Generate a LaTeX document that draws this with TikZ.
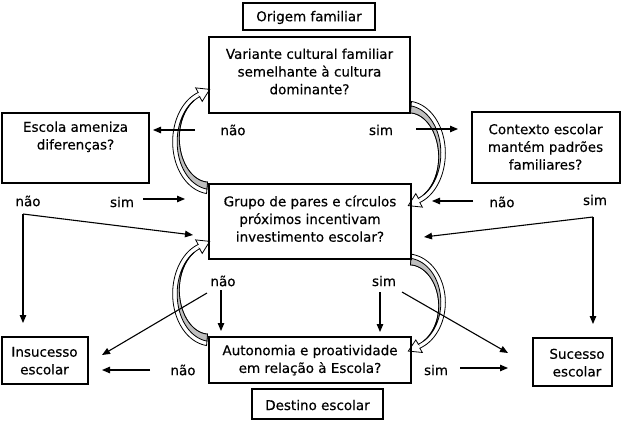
\documentclass[tikz,border=0pt]{standalone}
\usepackage{fontspec}
\setmainfont[FakeBold=0.4]{DejaVu Sans}
\usetikzlibrary{arrows.meta}
\begin{document}
\begin{tikzpicture}[x=1pt,y=-1pt,
  box/.style={draw, line width=1.2pt, inner sep=0pt},
  txt/.style={font=\fontsize{13.5}{17.7}\selectfont, align=center, inner sep=0pt},
  arr/.style={line width=1.1pt, -{Triangle[length=8pt,width=6.5pt]}},
  declare function={cwf(\t)=((251-\t)/156)*sqrt((251-\t)/156);},
  pics/curvarrow/.style={code={
    \filldraw[fill=white, line width=0.8pt]
      plot[domain=95:251, samples=50, variable=\t] ({(36.25+3.5*cwf(\t))*cos(\t)}, {(50.25+3.5*cwf(\t))*sin(\t)})
      -- (-14.35,-52.12) -- (-0.28,-50.62) -- (-7.79,-38.64) -- (-10.34,-43.26)
      -- plot[domain=251:95, samples=50, variable=\t] ({(31.75-3.5*cwf(\t))*cos(\t)}, {(45.75-3.5*cwf(\t))*sin(\t)})
      -- cycle;
    \filldraw[fill=gray!50, line width=0.8pt]
      plot[domain=95:240, samples=40, variable=\t] ({(31.75+3.5*cwf(\t))*cos(\t)}, {(45.75+3.5*cwf(\t))*sin(\t)})
      -- plot[domain=240:95, samples=40, variable=\t] ({(31.75-3.5*cwf(\t))*cos(\t)}, {(45.75-3.5*cwf(\t))*sin(\t)})
      -- cycle;
  }}]
\useasboundingbox (0,0) rectangle (626,426);

% curved block arrows
\pic (cLU) at (210,140) {curvarrow};
\pic (cLL) at (210,292) {curvarrow};
\pic[rotate=180] (cRU) at (408,155) {curvarrow};
\pic[rotate=180, yscale=0.93] (cRL) at (408,304) {curvarrow};

% boxes
\node[box, minimum width=132pt, minimum height=27pt] (origem) at (309,16.5) {};
\node[txt] (origem-t) at (309,17.5) {Origem familiar};
\node[box, minimum width=201pt, minimum height=76pt] (variante) at (309.5,75) {};
\node[txt] (variante-t) at (309.5,71.5) {Variante cultural familiar\\semelhante à cultura\\dominante?};
\node[box, minimum width=147pt, minimum height=70pt] (escola) at (75.5,148) {};
\node[txt] (escola-t) at (75.5,136.8) {Escola ameniza\\diferenças?};
\node[box, minimum width=148pt, minimum height=71pt] (contexto) at (546,147.5) {};
\node[txt] (contexto-t) at (545.5,146.8) {Contexto escolar\\mantém padrões\\familiares?};
\node[box, minimum width=202pt, minimum height=75pt] (grupo) at (310,221.5) {};
\node[txt] (grupo-t) at (310,218.7) {Grupo de pares e círculos\\próximos incentivam\\investimento escolar?};
\node[box, minimum width=86pt, minimum height=47pt] (insucesso) at (45,360.5) {};
\node[txt] (insucesso-t) at (44.5,360.7) {Insucesso\\escolar};
\node[box, minimum width=202pt, minimum height=46pt] (autonomia) at (310,360) {};
\node[txt] (autonomia-t) at (310,360.2) {Autonomia e proatividade\\em relação à Escola?};
\node[box, minimum width=131pt, minimum height=30pt] (destino) at (317.5,404) {};
\node[txt] (destino-t) at (317.5,405) {Destino escolar};
\node[box, minimum width=79pt, minimum height=48pt] (sucesso) at (572.5,362) {};
\node[txt] (sucesso-t) at (577,362.7) {Sucesso\\escolar};

% labels
\node[txt] (nao1) at (233,130) {não};
\node[txt] (sim1) at (381,130) {sim};
\node[txt] (nao2) at (28,201) {não};
\node[txt] (sim2) at (122,202) {sim};
\node[txt] (nao3) at (502,202) {não};
\node[txt] (sim3) at (595,200) {sim};
\node[txt] (nao4) at (223,281) {não};
\node[txt] (sim4) at (384,281) {sim};
\node[txt] (nao5) at (183,370) {não};
\node[txt] (sim5) at (436,370) {sim};

% arrow end points
\coordinate (a1s) at (195,130); \coordinate (a1e) at (153,130);
\coordinate (a2s) at (416,129); \coordinate (a2e) at (458,129);
\coordinate (a3s) at (143,199); \coordinate (a3e) at (185,199);
\coordinate (a4s) at (23,214);  \coordinate (a4e) at (193,235); \coordinate (a4d) at (23,323);
\coordinate (a5s) at (473,201); \coordinate (a5e) at (432,201);
\coordinate (a6s) at (593,217); \coordinate (a6e) at (424,237); \coordinate (a6d) at (593,324);
\coordinate (a7s) at (221,290); \coordinate (a7e) at (221,331);
\coordinate (a8s) at (207,293); \coordinate (a8e) at (102,355);
\coordinate (a9s) at (380,292); \coordinate (a9e) at (380,332);
\coordinate (a10s) at (402,292); \coordinate (a10e) at (508,353);
\coordinate (a11s) at (150,370); \coordinate (a11e) at (102,370);
\coordinate (a12s) at (460,368); \coordinate (a12e) at (508,368);

\draw[arr] (a1s) -- (a1e);
\draw[arr] (a2s) -- (a2e);
\draw[arr] (a3s) -- (a3e);
\draw[arr] (a4s) -- (a4e);
\draw[arr] (a4s) -- (a4d);
\draw[arr] (a5s) -- (a5e);
\draw[arr] (a6s) -- (a6e);
\draw[arr] (a6s) -- (a6d);
\draw[arr] (a7s) -- (a7e);
\draw[arr] (a8s) -- (a8e);
\draw[arr] (a9s) -- (a9e);
\draw[arr] (a10s) -- (a10e);
\draw[arr] (a11s) -- (a11e);
\draw[arr] (a12s) -- (a12e);
\end{tikzpicture}
\end{document}
